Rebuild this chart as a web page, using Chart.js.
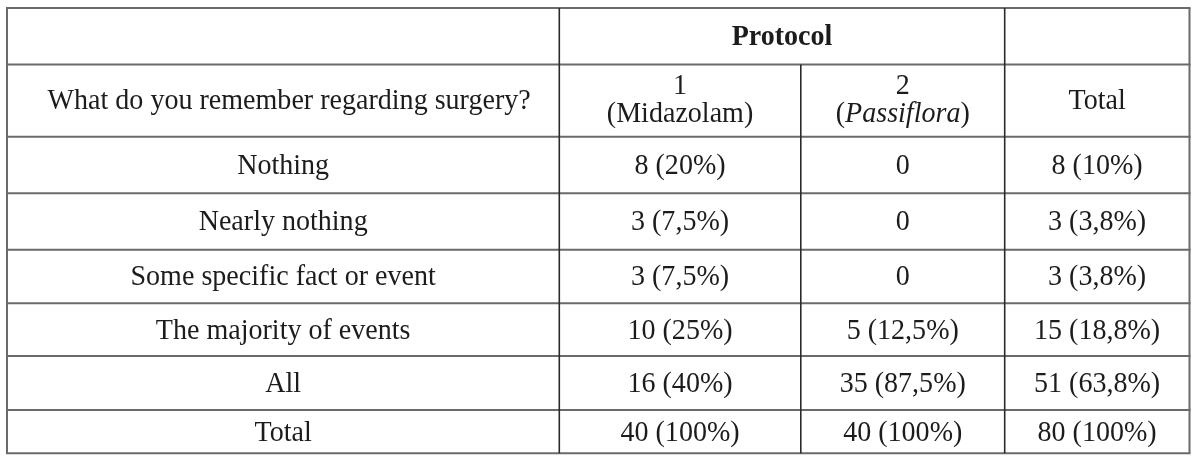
<!DOCTYPE html>
<html>
<head>
<meta charset="utf-8">
<script src="https://cdn.jsdelivr.net/npm/chart.js@4/dist/chart.umd.min.js"></script>
<style>
  html, body { margin: 0; padding: 0; background: #ffffff; }
  #wrap { position: relative; width: 1200px; height: 461px; }
</style>
</head>
<body>
<div id="wrap"><canvas id="c"></canvas></div>
<script>
// ---- Data ----
const questionHeader = "What do you remember regarding surgery?";
const groupHeader = "Protocol";
const protocolNumbers = ["1", "2"];
const protocolNames = ["Midazolam", "Passiflora"];
const totalHeader = "Total";
const categories = ["Nothing", "Nearly nothing", "Some specific fact or event", "The majority of events", "All", "Total"];
const midazolamN = [8, 3, 3, 10, 16, 40];
const midazolamPct = [20, 7.5, 7.5, 25, 40, 100];
const passifloraN = [0, 0, 0, 5, 35, 40];
const passifloraPct = [null, null, null, 12.5, 87.5, 100];
const totalN = [8, 3, 3, 15, 51, 80];
const totalPct = [10, 3.8, 3.8, 18.8, 63.8, 100];

// ---- Layout (table grid, in pixel units of the scales) ----
const colEdges = [7, 559.3, 800.8, 1004.7, 1189.5];
const rowEdges = [8, 64.5, 136.7, 193.3, 249.7, 303.3, 356, 410, 453.3];
const FONT = '"Liberation Serif", "Times New Roman", serif';
const FONT_SIZE = 30;
const SX = 0.935;
const TEXT_COLOR = '#1c1c1c';

function fmt(n, p) {
  if (p === null || p === undefined) return String(n);
  return n + ' (' + String(p).replace('.', ',') + '%)';
}
const colMid = i => (colEdges[i] + colEdges[i + 1]) / 2;
const rowMid = i => (rowEdges[i] + rowEdges[i + 1]) / 2;

function cellDataset(label, texts, col) {
  return {
    label: label,
    texts: texts,
    data: texts.map((t, i) => ({ x: colMid(col), y: rowMid(i + 2) })),
    pointRadius: 0,
    showLine: false
  };
}

const datasets = [
  cellDataset('categories', categories, 0),
  cellDataset('midazolam', midazolamN.map((n, i) => fmt(n, midazolamPct[i])), 1),
  cellDataset('passiflora', passifloraN.map((n, i) => fmt(n, passifloraPct[i])), 2),
  cellDataset('total', totalN.map((n, i) => fmt(n, totalPct[i])), 3)
];

function drawText(ctx, t, x, y, align) {
  ctx.save();
  ctx.translate(x, y);
  ctx.scale(SX, 1);
  ctx.textAlign = align || 'center';
  ctx.fillText(t, 0, 0);
  ctx.restore();
}

const tablePlugin = {
  id: 'tablePlugin',
  afterDraw(chart) {
    const ctx = chart.ctx;
    const xs = chart.scales.x, ys = chart.scales.y;
    const X = v => xs.getPixelForValue(v);
    const Y = v => ys.getPixelForValue(v);
    ctx.save();
    // horizontal rules
    ctx.strokeStyle = '#6a6a6a';
    ctx.lineWidth = 2;
    rowEdges.forEach(r => {
      ctx.beginPath();
      ctx.moveTo(X(colEdges[0]) - 1, Y(r));
      ctx.lineTo(X(colEdges[4]) + 1, Y(r));
      ctx.stroke();
    });
    // outer vertical borders
    [colEdges[0], colEdges[4]].forEach(c => {
      ctx.beginPath();
      ctx.moveTo(X(c), Y(rowEdges[0]));
      ctx.lineTo(X(c), Y(rowEdges[rowEdges.length - 1]));
      ctx.stroke();
    });
    // inner vertical rules
    ctx.strokeStyle = '#2a2a2a';
    ctx.lineWidth = 1.6;
    [colEdges[1], colEdges[3]].forEach(c => {
      ctx.beginPath();
      ctx.moveTo(X(c), Y(rowEdges[0]));
      ctx.lineTo(X(c), Y(rowEdges[rowEdges.length - 1]));
      ctx.stroke();
    });
    ctx.beginPath();
    ctx.moveTo(X(colEdges[2]), Y(rowEdges[1]));
    ctx.lineTo(X(colEdges[2]), Y(rowEdges[rowEdges.length - 1]));
    ctx.stroke();

    // text
    ctx.fillStyle = TEXT_COLOR;
    ctx.textBaseline = 'middle';
    const normal = FONT_SIZE + 'px ' + FONT;
    const italic = 'italic ' + FONT_SIZE + 'px ' + FONT;
    const bold = 'bold ' + FONT_SIZE + 'px ' + FONT;
    ctx.font = normal;
    const dy = 1;

    // body cells via dataset elements
    chart.data.datasets.forEach((ds, di) => {
      const meta = chart.getDatasetMeta(di);
      meta.data.forEach((pt, i) => {
        drawText(ctx, ds.texts[i], pt.x, pt.y + dy);
      });
    });

    // header row 1
    ctx.font = bold;
    drawText(ctx, groupHeader, X((colEdges[1] + colEdges[3]) / 2), Y(rowMid(0)) + dy);
    ctx.font = normal;
    // header row 2
    drawText(ctx, questionHeader, X(colMid(0)) + 6, Y(rowMid(1)) + dy);
    drawText(ctx, totalHeader, X(colMid(3)), Y(rowMid(1)) + dy);
    const l1 = Y(rowMid(1)) - 14, l2 = Y(rowMid(1)) + 14;
    drawText(ctx, protocolNumbers[0], X(colMid(1)), l1);
    drawText(ctx, '(' + protocolNames[0] + ')', X(colMid(1)), l2);
    drawText(ctx, protocolNumbers[1], X(colMid(2)), l1);
    ctx.font = normal; const wp = ctx.measureText('(').width * SX, wq = ctx.measureText(')').width * SX;
    ctx.font = italic; const wn = ctx.measureText(protocolNames[1]).width * SX;
    let x0 = X(colMid(2)) - (wp + wn + wq) / 2;
    ctx.font = normal; drawText(ctx, '(', x0, l2, 'left');
    ctx.font = italic; drawText(ctx, protocolNames[1], x0 + wp, l2, 'left');
    ctx.font = normal; drawText(ctx, ')', x0 + wp + wn, l2, 'left');
    ctx.restore();
  }
};

new Chart(document.getElementById('c'), {
  type: 'scatter',
  data: { datasets: datasets },
  options: {
    responsive: true,
    maintainAspectRatio: false,
    animation: false,
    layout: { padding: 0 },
    plugins: { legend: { display: false }, tooltip: { enabled: false } },
    scales: {
      x: { type: 'linear', min: 0, max: 1200, display: false },
      y: { type: 'linear', min: 0, max: 461, reverse: true, display: false }
    }
  },
  plugins: [tablePlugin]
});
</script>
</body>
</html>
